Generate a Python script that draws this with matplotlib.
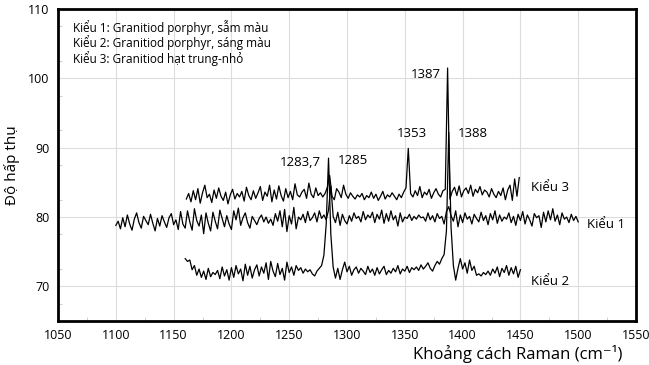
import matplotlib.pyplot as plt
import numpy as np

plt.rcParams['font.family'] = ['Open Sans', 'DejaVu Sans']

# Kieu 1: 1100..1500, step 2
kieu1 = [78.8, 79.4, 78.3, 79.9, 78.6, 80.3, 79.0, 78.1, 79.7, 80.6,
         79.2, 78.4, 80.1, 79.5, 78.9, 80.4, 79.1, 78.0, 79.8, 78.7,
         80.2, 79.3, 78.5, 79.9, 80.5, 78.9, 79.6, 78.2, 80.8, 79.0,
         78.4, 80.9, 79.3, 78.1, 81.2, 79.5, 78.7, 80.3, 77.6, 80.6,
         79.1, 78.0, 80.7, 79.4, 78.3, 81.0, 79.8, 78.6, 80.2, 79.0,
         78.2, 80.9, 79.6, 81.3, 78.8, 79.9, 80.6, 79.2, 78.4, 80.1,
         79.5, 78.9, 79.8, 80.3, 79.3, 80.0, 79.1, 79.7, 78.8, 80.5,
         79.4, 80.9, 78.6, 81.1, 77.9, 80.2, 79.0, 81.4, 78.3, 80.0,
         79.6, 80.4, 79.2, 80.8, 79.5, 79.9, 80.6, 79.3, 80.9, 79.8,
         80.3, 79.6, 81.0, 84.5, 80.1, 79.2, 80.7, 78.8, 80.4, 79.5,
         79.0, 80.2, 79.4, 80.6, 79.8, 80.1, 79.3, 80.8, 79.6, 80.3,
         79.9, 80.7, 79.2, 80.4, 79.7, 81.0, 79.1, 80.5, 79.4, 80.9,
         79.6, 80.2, 78.7, 80.6, 79.3, 80.0, 79.8, 80.4, 79.5, 80.1,
         79.7, 80.3, 79.9, 80.0, 79.4, 80.6, 79.6, 80.2, 79.3, 80.5,
         79.8, 80.1, 79.0, 80.8, 81.5, 80.2, 79.4, 80.9, 78.6, 80.3,
         79.2, 80.6, 79.7, 80.1, 79.0, 80.4, 79.8, 79.3, 80.7, 79.5,
         80.2, 78.9, 80.5, 79.6, 80.9, 79.1, 80.3, 79.4, 80.0, 79.7,
         80.6, 79.2, 80.1, 78.8, 80.4, 79.5, 80.8, 79.0, 80.3, 79.6,
         78.7, 80.5, 79.9, 80.2, 78.5, 80.7, 79.3, 80.9, 79.6, 81.2,
         79.4, 80.3, 78.9, 80.6, 79.7, 80.0, 79.2, 80.4, 79.5, 80.1,
         79.3]

# Kieu 3: 1161..1449, step 2
kieu3 = [82.6, 83.4, 82.2, 83.8, 82.5, 84.1, 82.0, 83.5, 84.6, 82.8,
         83.3, 82.1, 83.9, 82.7, 84.2, 83.0, 82.4, 83.6, 81.9, 83.2,
         84.0, 82.6, 83.4, 82.9, 83.7, 82.3, 84.3, 83.1, 82.5, 83.8,
         82.7, 83.5, 84.4, 82.4, 83.6, 83.0, 84.6, 82.2, 83.9, 82.6,
         84.5, 83.1, 82.3, 84.1, 82.8, 83.7, 82.5, 84.8, 83.2, 82.9,
         83.6, 84.0, 82.7, 84.9, 83.3, 82.8, 84.2, 83.1, 83.5, 82.9,
         83.4, 84.3, 86.0, 83.0, 82.5, 84.1, 83.6, 82.8, 84.6, 83.3,
         82.7, 83.5, 83.0, 82.6, 83.2, 82.9, 83.4, 82.5, 83.1, 82.8,
         83.6, 82.7, 83.3, 82.4, 83.0, 83.7, 82.6, 83.2, 82.9, 83.5,
         83.0, 82.5, 83.3, 82.8, 83.6, 84.2, 89.9, 83.4, 82.9, 83.8,
         83.1, 84.4, 82.8, 83.6, 83.2, 84.0, 82.7, 83.5, 84.1, 83.3,
         82.9, 83.8, 84.0, 101.5, 82.6, 83.7, 84.3, 83.1, 84.5, 82.9,
         83.8, 84.2, 83.4, 84.6, 83.0, 84.0, 83.5, 84.4, 83.2, 83.9,
         83.6, 82.9, 84.1, 83.3, 82.8, 83.7, 83.1, 84.2, 82.5, 83.9,
         84.6, 82.4, 85.5, 83.0, 85.7]

# Kieu 2: 1160..1450, step 2
kieu2 = [74.0, 73.6, 73.8, 72.4, 73.0, 71.6, 72.5, 71.3, 72.2, 71.0,
         72.6, 71.4, 72.0, 71.7, 72.3, 71.1, 72.8, 71.5, 72.4, 70.9,
         72.7, 71.3, 73.0, 71.8, 72.5, 70.8, 73.2, 71.6, 72.9, 71.2,
         72.4, 73.1, 71.5, 72.8, 71.9, 73.4, 71.0, 73.6, 72.2, 71.4,
         73.3, 71.7, 72.6, 70.9, 73.5, 72.0, 72.8, 71.6, 73.0, 72.3,
         72.7, 71.9, 72.5, 72.1, 72.4, 71.8, 71.5, 72.2, 72.6, 73.0,
         74.5, 79.0, 88.5, 77.5, 72.8, 71.2, 72.6, 71.0, 72.4, 73.5,
         72.1, 72.9, 71.6, 72.4, 72.8, 71.9, 72.6, 72.2, 71.7, 72.9,
         72.0, 72.5, 71.6, 72.7, 71.8, 72.4, 72.9, 71.7, 72.3, 71.9,
         72.6, 72.1, 73.0, 71.8, 72.5, 72.2, 72.9, 72.0, 72.7, 72.4,
         72.8, 72.3, 73.1, 72.5, 72.9, 73.4, 72.6, 72.2, 73.0, 73.6,
         73.2, 74.0, 74.6, 78.0, 92.2, 78.5, 73.0, 70.9, 72.6, 74.0,
         72.5, 73.4, 71.9, 73.8, 72.3, 72.9, 71.6, 71.8, 71.5, 72.0,
         71.7, 72.2, 71.6, 72.5, 71.9, 72.8, 71.4, 72.6, 72.0, 73.0,
         71.6, 72.7, 71.8, 72.9, 71.3, 72.4]

x1 = np.arange(1100, 1501, 2)
x3 = np.arange(1161, 1450, 2)
x2 = np.arange(1160, 1451, 2)

fig = plt.figure(figsize=(6.49, 3.65), dpi=100)
ax = fig.add_axes([0.0894, 0.1205, 0.8906, 0.8545])

ax.plot(x1, kieu1, color='black', lw=0.9)
ax.plot(x3, kieu3, color='black', lw=0.9)
ax.plot(x2, kieu2, color='black', lw=0.9)

ax.set_xlim(1050, 1550)
ax.set_ylim(65, 110)
ax.set_xticks(np.arange(1050, 1551, 50))
ax.set_yticks([70, 80, 90, 100, 110])
ax.set_xticks(np.arange(1075, 1550, 50), minor=True)
ax.set_yticks(np.arange(67.5, 110, 5), minor=True)
ax.grid(True, which='major', color='#dcdcdc', lw=0.8)
ax.tick_params(which='major', length=0, labelsize=9, pad=6)
ax.tick_params(which='minor', direction='in', length=3, color='#c8c8c8')
for s in ax.spines.values():
    s.set_linewidth(2)

ax.set_ylabel('Độ hấp thụ', fontsize=11, labelpad=6)
ax.set_xlabel('Khoảng cách Raman (cm⁻¹)', fontsize=12, va='center')
ax.xaxis.set_label_coords(0.795, -0.105)

legend = ['Kiểu 1: Granitiod porphyr, sẫm màu',
          'Kiểu 2: Granitiod porphyr, sáng màu',
          'Kiểu 3: Granitiod hạt trung-nhỏ']
for i, t in enumerate(legend):
    ax.text(1063, 107.4 - i * 2.25, t, fontsize=8.5, va='center')

ax.text(1277, 87.8, '1283,7', fontsize=9.5, ha='right', va='center')
ax.text(1292, 88.1, '1285', fontsize=9.5, ha='left', va='center')
ax.text(1356, 92.0, '1353', fontsize=9.5, ha='center', va='center')
ax.text(1396, 92.0, '1388', fontsize=9.5, ha='left', va='center')
ax.text(1381, 100.5, '1387', fontsize=9.5, ha='right', va='center')
ax.text(1459, 84.2, 'Kiểu 3', fontsize=9.5, va='center')
ax.text(1508, 78.9, 'Kiểu 1', fontsize=9.5, va='center')
ax.text(1459, 70.7, 'Kiểu 2', fontsize=9.5, va='center')

fig.savefig('out.png', dpi=100)
